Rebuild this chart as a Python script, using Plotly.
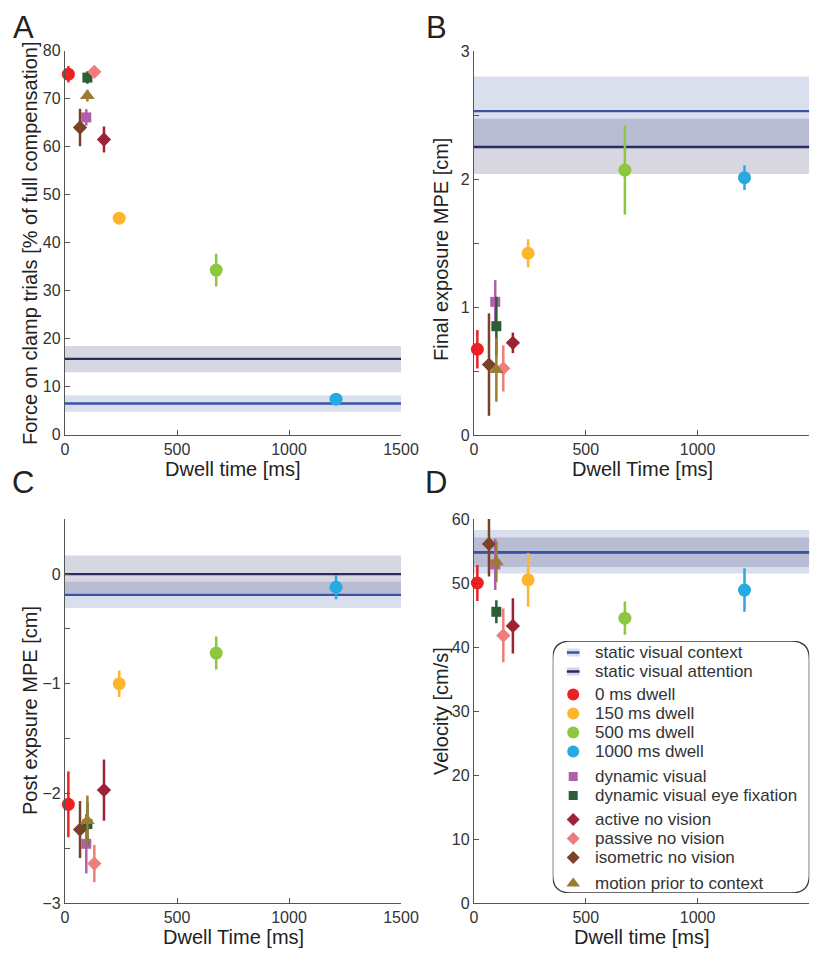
import plotly.graph_objects as go

# ---------------- data ----------------
conditions = ["0 ms dwell", "150 ms dwell", "500 ms dwell", "1000 ms dwell",
              "dynamic visual", "dynamic visual eye fixation",
              "active no vision", "passive no vision", "isometric no vision",
              "motion prior to context"]
dwell_ms = [15, 242, 675, 1210, 95, 100, 174, 131, 67, 100]

force_pct = [75.1, 45.1, 34.3, 7.4, 66.1, 74.4, 61.5, 75.6, 64.0, 70.6]
force_err = [1.7, 0.9, 3.4, 1.0, 1.7, 1.3, 2.7, 0.8, 3.9, 1.2]
final_mpe = [0.67, 1.42, 2.07, 2.01, 1.04, 0.85, 0.72, 0.52, 0.55, 0.51]
final_err = [0.15, 0.11, 0.35, 0.095, 0.17, 0.23, 0.08, 0.18, 0.40, 0.25]
post_mpe = [-2.10, -1.00, -0.72, -0.12, -2.46, -2.28, -1.97, -2.64, -2.33, -2.25]
post_err = [0.30, 0.12, 0.15, 0.11, 0.27, 0.20, 0.28, 0.17, 0.26, 0.23]
velocity = [50.0, 50.5, 44.5, 48.9, 52.9, 45.5, 43.3, 41.8, 56.1, 53.3]
velocity_err = [2.8, 4.2, 2.6, 3.4, 4.0, 1.8, 4.3, 4.2, 5.1, 3.2]

# reference conditions (mean and band) per panel A, B, C, D
context_mean = [6.5, 2.53, -0.19, 54.8]
context_lo = [4.8, 2.25, -0.31, 51.5]
context_hi = [8.2, 2.80, -0.07, 58.3]
attention_mean = [15.8, 2.25, 0.0, 54.8]
attention_lo = [13.0, 2.04, -0.18, 52.5]
attention_hi = [18.5, 2.47, 0.17, 57.1]
band_labels = ["static visual context", "static visual attention"]

dwell_range = [0, 1500]
x_ticks = [0, 500, 1000, 1500]

# ---------------- styles ----------------
colors = ["#ed2024", "#fdb52b", "#8dc63f", "#27aae1", "#b05fac", "#2b5e34",
          "#9e2235", "#f07c7c", "#7a4328", "#9b7c33"]
symbols = ["circle"] * 4 + ["square"] * 2 + ["diamond"] * 3 + ["triangle-up"]
sizes = [13] * 4 + [10] * 2 + [11] * 3 + [13]
ctx_line, ctx_fill = "#3a53a4", "rgba(58,83,164,0.19)"
att_line, att_fill = "#262b62", "rgba(37,42,94,0.19)"
AX = "#555555"
TXT = "#333333"
FONT = "Liberation Sans, Arial, sans-serif"

# page has an 8px body margin: figure sits at (8, 8) in the window
OFF = 8
W, H = 820 - OFF, 955 - OFF
def fx(p):
    return (p - OFF) / W
def fy(p):
    return 1 - (p - OFF) / H

fig = go.Figure()

panels = [
    ("x", "y", force_pct, force_err),
    ("x2", "y2", final_mpe, final_err),
    ("x3", "y3", post_mpe, post_err),
    ("x4", "y4", velocity, velocity_err),
]

for k, (xa, ya, vals, errs) in enumerate(panels):
    for lo, hi, fc in [(context_lo[k], context_hi[k], ctx_fill),
                       (attention_lo[k], attention_hi[k], att_fill)]:
        fig.add_trace(go.Scatter(
            x=[dwell_range[0], dwell_range[1], dwell_range[1], dwell_range[0], dwell_range[0]],
            y=[lo, lo, hi, hi, lo], fill="toself", fillcolor=fc, mode="lines",
            line=dict(width=0), xaxis=xa, yaxis=ya, hoverinfo="skip", showlegend=False))
    for m, lc in [(attention_mean[k], att_line), (context_mean[k], ctx_line)]:
        fig.add_trace(go.Scatter(
            x=dwell_range, y=[m, m], mode="lines", line=dict(color=lc, width=2.3),
            xaxis=xa, yaxis=ya, hoverinfo="skip", showlegend=False))
    for i, name in enumerate(conditions):
        fig.add_trace(go.Scatter(
            x=[dwell_ms[i]], y=[vals[i]], mode="markers", name=name,
            marker=dict(symbol=symbols[i], size=sizes[i], color=colors[i], line=dict(width=0)),
            error_y=dict(type="data", array=[errs[i]], width=0, thickness=2.5, color=colors[i]),
            xaxis=xa, yaxis=ya, cliponaxis=False, showlegend=False))

# ---------------- manual legend (panel D) ----------------
LX0, LX1, LY0, LY1 = 552.7, 809.3, 641, 893
lw, lh = LX1 - LX0, LY1 - LY0
legend_labels = band_labels + conditions
group_of = [0, 0, 1, 1, 1, 1, 2, 2, 3, 3, 3, 4]
group_off = [0, 4, 10, 15, 22]
row_y = [11.5 + i * 19 + group_off[g] for i, g in enumerate(group_of)]
sym_x, txt_x = 20.5, 40.0

for i, name in enumerate(conditions):
    fig.add_trace(go.Scatter(
        x=[sym_x], y=[row_y[i + 2]], mode="markers",
        marker=dict(symbol=symbols[i], size=sizes[i] - 1, color=colors[i], line=dict(width=0)),
        xaxis="x5", yaxis="y5", hoverinfo="skip", showlegend=False))

shapes = []
r = 18
shapes.append(dict(
    type="path", xref="x5", yref="y5",
    path=(f"M {r},0 L {lw - r},0 Q {lw},0 {lw},{r} L {lw},{lh - r} Q {lw},{lh} {lw - r},{lh} "
          f"L {r},{lh} Q 0,{lh} 0,{lh - r} L 0,{r} Q 0,0 {r},0 Z"),
    line=dict(color="#3a3a3a", width=1.3), fillcolor="rgba(0,0,0,0)", layer="below"))
for j, (fc, lc) in enumerate([(ctx_fill, ctx_line), (att_fill, att_line)]):
    shapes.append(dict(type="rect", xref="x5", yref="y5", x0=sym_x - 6.3, x1=sym_x + 6.3,
                       y0=row_y[j] - 4, y1=row_y[j] + 4, fillcolor=fc, line=dict(width=0)))
    shapes.append(dict(type="line", xref="x5", yref="y5", x0=sym_x - 6.3, x1=sym_x + 6.3,
                       y0=row_y[j], y1=row_y[j], line=dict(color=lc, width=2.5)))

annotations = []
for j, lab_txt in enumerate(legend_labels):
    annotations.append(dict(text=lab_txt, xref="x5", yref="y5", x=txt_x, y=row_y[j],
                            xanchor="left", yanchor="middle", showarrow=False,
                            font=dict(size=17, color=TXT, family=FONT)))

# ---------------- axes ----------------
def xaxis_cfg(dom):
    return dict(domain=[fx(dom[0]), fx(dom[1])], range=dwell_range, tickvals=x_ticks,
                showline=True, linecolor=AX, linewidth=1.3, ticks="inside", ticklen=5,
                tickcolor=AX, tickwidth=1.2, showgrid=False, zeroline=False,
                tickfont=dict(size=16, color=TXT, family=FONT), automargin=False, fixedrange=True)

def yaxis_cfg(dom, rng, tv, tt=None):
    d = dict(domain=[fy(dom[1]), fy(dom[0])], range=rng, tickvals=tv,
             showline=True, linecolor=AX, linewidth=1.3, ticks="inside", ticklen=5,
             tickcolor=AX, tickwidth=1.2, showgrid=False, zeroline=False,
             tickfont=dict(size=16, color=TXT, family=FONT), automargin=False, fixedrange=True)
    if tt is not None:
        d["ticktext"] = tt
    return d

half_B = [0, 0.5, 1, 1.5, 2, 2.5, 3]
half_C = [-3, -2.5, -2, -1.5, -1, -0.5, 0, 0.5]
lab = lambda v: (f"{int(v)}".replace("-", "\u2212") if float(v).is_integer() else "")

A_x, A_y = (65, 401), (50.7, 434.7)
B_x, B_y = (474, 809.3), (51, 435)
C_x, C_y = (65, 401), (519.3, 903)
D_x, D_y = (474, 809.3), (519, 903)

layout_axes = dict(
    xaxis=dict(anchor="y", **xaxis_cfg(A_x)),
    yaxis=dict(anchor="x", **yaxis_cfg(A_y, [0, 80], list(range(0, 81, 10)))),
    xaxis2=dict(anchor="y2", **xaxis_cfg(B_x)),
    yaxis2=dict(anchor="x2", **yaxis_cfg(B_y, [0, 3], half_B, [lab(v) for v in half_B])),
    xaxis3=dict(anchor="y3", **xaxis_cfg(C_x)),
    yaxis3=dict(anchor="x3", **yaxis_cfg(C_y, [-3, 0.5], half_C, [lab(v) for v in half_C])),
    xaxis4=dict(anchor="y4", **xaxis_cfg(D_x)),
    yaxis4=dict(anchor="x4", **yaxis_cfg(D_y, [0, 60], list(range(0, 61, 10)))),
    xaxis5=dict(anchor="y5", domain=[fx(LX0), fx(LX1)], range=[0, lw], visible=False, fixedrange=True),
    yaxis5=dict(anchor="x5", domain=[fy(LY1), fy(LY0)], range=[lh, 0], visible=False, fixedrange=True),
)

def title_ann(text, x, y, angle=0, size=20, yanchor="middle"):
    return dict(text=text, xref="paper", yref="paper", x=fx(x), y=fy(y), xanchor="center",
                yanchor=yanchor, showarrow=False, textangle=angle,
                font=dict(size=size, color="#222222", family=FONT))

annotations += [
    title_ann("Dwell time [ms]", 233, 469),
    title_ann("Dwell Time [ms]", 642, 469),
    title_ann("Dwell Time [ms]", 233, 937),
    title_ann("Dwell time [ms]", 642, 937),
    title_ann("Force on clamp trials [% of full compensation]", 30, 243, -90),
    title_ann("Final exposure MPE [cm]", 441, 250, -90),
    title_ann("Post expsure MPE [cm]", 30, 711, -90),
    title_ann("Velocity [cm/s]", 441, 711, -90),
    title_ann("A", 23, OFF, 0, 31, "top"),
    title_ann("B", 436, OFF, 0, 31, "top"),
    title_ann("C", 23, 463, 0, 31, "top"),
    title_ann("D", 436, 463, 0, 31, "top"),
]

fig.update_layout(
    width=W, height=H, margin=dict(l=0, r=0, t=0, b=0),
    paper_bgcolor="white", plot_bgcolor="rgba(0,0,0,0)",
    showlegend=False, hovermode=False,
    font=dict(family=FONT, color=TXT),
    shapes=shapes, annotations=annotations,
    **layout_axes,
)

fig.write_html("out.html")
